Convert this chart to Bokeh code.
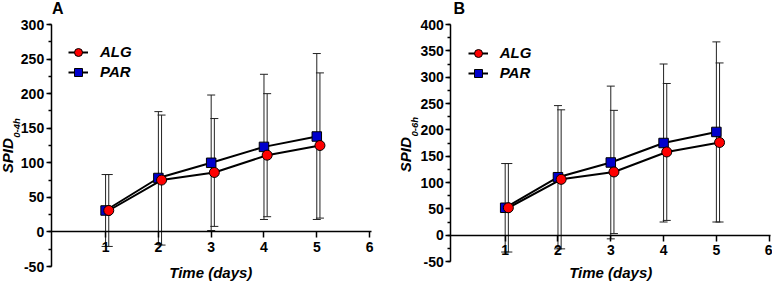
import math
from bokeh.plotting import figure
from bokeh.models import (ColumnDataSource, Whisker, TeeHead, LinearAxis, FixedTicker,
                          SingleIntervalTicker, Range1d, Label, Legend, LegendItem)
from bokeh.layouts import row
from bokeh.transform import dodge
from bokeh.embed import file_html
from bokeh.resources import INLINE

# ---------------- data ----------------
days = [1, 2, 3, 4, 5]
x_ticks = [1, 2, 3, 4, 5, 6]

# Panel A: SPID 0-4h
alg_a_mean = [31, 75, 86, 111, 125]
alg_a_sd = [52, 94, 78, 89, 105]
par_a_mean = [31, 78, 100, 123, 138]
par_a_sd = [52, 96, 98, 105, 120]

# Panel B: SPID 0-6h
alg_b_mean = [52, 106, 120, 158, 176]
alg_b_sd = [84, 132, 117, 130, 151]
par_b_mean = [52, 110, 138, 175, 196]
par_b_sd = [84, 136, 145, 150, 171]

series_names = ["ALG", "PAR"]
x_label = "Time (days)"

FONT = "Liberation Sans"
RED = "#ff0000"
BLUE = "#0000cc"
W, H = 386, 282


def make_panel(letter, sub, alg_m, alg_s, par_m, par_s, y0, y1,
               axis_px, top_px, bottom_px, ylab_pos, sub_pos, title_pos, xlab_pos, legend_pos):
    # plot area = whole canvas; axes drawn at fixed locations with bounds
    x_axis_at = -0.03
    x_end_data = 6.03
    ppu_x = 52.8
    xs = x_axis_at - axis_px / ppu_x
    xe = xs + W / ppu_x
    ppu_y = (bottom_px - top_px) / (y1 - y0)
    ys_top = y1 + top_px / ppu_y
    ys_bot = y0 - (H - bottom_px) / ppu_y

    p = figure(width=W, height=H, output_backend="svg", toolbar_location=None,
               x_range=Range1d(xs, xe), y_range=Range1d(ys_bot, ys_top),
               x_axis_location=None, y_axis_location=None,
               min_border=0, min_border_left=0, min_border_right=0,
               min_border_top=0, min_border_bottom=0)
    p.outline_line_color = None
    p.grid.visible = False
    p.background_fill_color = "white"
    p.border_fill_color = "white"

    src = ColumnDataSource(dict(
        day=days,
        alg=alg_m, alg_up=[m + s for m, s in zip(alg_m, alg_s)],
        alg_lo=[m - s for m, s in zip(alg_m, alg_s)],
        par=par_m, par_up=[m + s for m, s in zip(par_m, par_s)],
        par_lo=[m - s for m, s in zip(par_m, par_s)],
    ))
    x_alg = dodge("day", 0.06, range=p.x_range)
    x_par = dodge("day", 0.0, range=p.x_range)

    # error bars
    for xb, up, lo in ((x_par, "par_up", "par_lo"), (x_alg, "alg_up", "alg_lo")):
        w = Whisker(base=xb, upper=up, lower=lo, source=src, dimension="height",
                    line_color="#222222", line_width=1,
                    upper_head=TeeHead(size=8, line_color="#222222", line_width=1),
                    lower_head=TeeHead(size=8, line_color="#222222", line_width=1))
        p.add_layout(w)

    par_line = p.line(x=x_par, y="par", source=src, line_color="black", line_width=2)
    alg_line = p.line(x=x_alg, y="alg", source=src, line_color="black", line_width=2)
    par_mark = p.scatter(x=x_par, y="par", source=src, marker="square", size=9.5,
                         fill_color=BLUE, line_color="black", line_width=1)
    alg_mark = p.scatter(x=x_alg, y="alg", source=src, marker="circle", size=10,
                         fill_color=RED, line_color="black", line_width=1)

    # y axis at x = x_axis_at, limited to [y0, y1]
    ya = LinearAxis(fixed_location=x_axis_at, bounds=(y0, y1),
                    ticker=SingleIntervalTicker(interval=50, num_minor_ticks=2))
    ya.axis_line_width = 1.5
    ya.major_tick_line_width = 1.5
    ya.minor_tick_line_width = 1.5
    ya.major_tick_out = 5
    ya.major_tick_in = 0
    ya.minor_tick_out = 3
    ya.minor_tick_in = 0
    ya.major_label_standoff = 2
    ya.major_label_text_font = FONT
    ya.major_label_text_font_style = "bold"
    ya.major_label_text_font_size = "14px"
    ya.major_label_text_color = "black"
    ya.major_label_overrides = {-50: "-50"}
    p.add_layout(ya, "left")

    # x axis drawn at y = 0
    xa = LinearAxis(fixed_location=0, bounds=(x_axis_at, x_end_data),
                    ticker=FixedTicker(ticks=x_ticks, minor_ticks=[]))
    xa.axis_line_width = 1.5
    xa.major_tick_line_width = 1.5
    xa.major_tick_out = 6
    xa.major_tick_in = 0
    xa.major_label_standoff = 4
    xa.major_label_text_font = FONT
    xa.major_label_text_font_style = "bold"
    xa.major_label_text_font_size = "14px"
    xa.major_label_text_color = "black"
    p.add_layout(xa, "below")

    # legend
    legend = Legend(items=[LegendItem(label=series_names[0], renderers=[alg_line, alg_mark]),
                           LegendItem(label=series_names[1], renderers=[par_line, par_mark])],
                    location=legend_pos, orientation="vertical",
                    label_text_font=FONT, label_text_font_style="bold italic",
                    label_text_font_size="15px", label_text_color="black",
                    glyph_width=20, glyph_height=20, label_height=20, label_standoff=12,
                    spacing=0, padding=0, margin=0,
                    border_line_color=None, background_fill_alpha=0)
    p.add_layout(legend)

    def lab(pos, text, size, style, angle=0.0, align="left"):
        p.add_layout(Label(x=pos[0], y=pos[1], x_units="screen", y_units="screen",
                           text=text, angle=angle, text_align=align,
                           text_baseline="middle", text_font=FONT,
                           text_font_style=style, text_font_size=size,
                           text_color="black"))

    lab(ylab_pos, "SPID", "15px", "bold italic", angle=math.pi / 2)
    lab(sub_pos, sub, "9.5px", "bold italic", angle=math.pi / 2)
    lab(title_pos, letter, "16px", "bold")
    lab(xlab_pos, x_label, "15px", "bold italic", align="center")
    return p


pA = make_panel("A", "0-4h", alg_a_mean, alg_a_sd, par_a_mean, par_a_sd, -50, 300,
                axis_px=50.7, top_px=24, bottom_px=266,
                ylab_pos=(6.9, 109.3), sub_pos=(15.6, 144.7), title_pos=(51.5, 273.7),
                xlab_pos=(210.3, 10.3), legend_pos=(68, 200.3))
pB = make_panel("B", "0-6h", alg_b_mean, alg_b_sd, par_b_mean, par_b_sd, -50, 400,
                axis_px=64.3, top_px=24, bottom_px=261,
                ylab_pos=(19.2, 110.3), sub_pos=(28.3, 146), title_pos=(67.0, 273.7),
                xlab_pos=(224.2, 9.8), legend_pos=(81.7, 199.3))

layout = row(pA, pB)
open("out.html", "w").write(file_html(layout, INLINE))
